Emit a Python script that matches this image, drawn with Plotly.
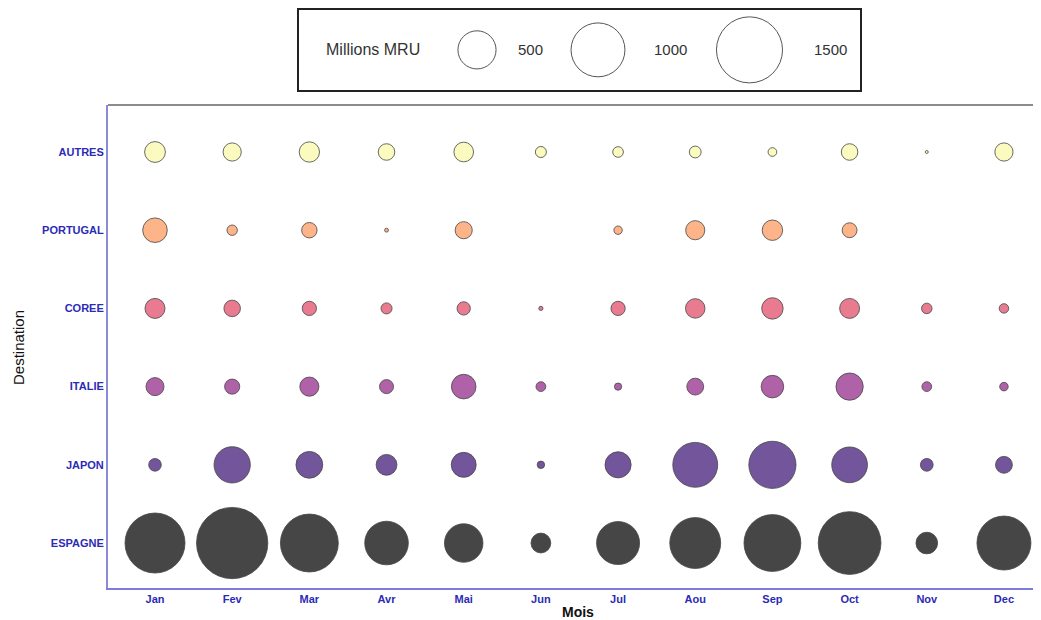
import plotly.graph_objects as go

months = ["Jan", "Fev", "Mar", "Avr", "Mai", "Jun", "Jul", "Aou", "Sep", "Oct", "Nov", "Dec"]
destinations = ["ESPAGNE", "JAPON", "ITALIE", "COREE", "PORTUGAL", "AUTRES"]

# Millions MRU per destination and month
espagne = [1238, 1748, 1153, 654, 510, 135, 636, 892, 1112, 1355, 161, 1002]
japon = [55, 453, 247, 149, 214, 19, 235, 693, 766, 439, 56, 98]
italie = [112, 79, 126, 68, 208, 33, 18, 98, 175, 256, 33, 25]
coree = [138, 94, 70, 42, 61, 6, 70, 131, 158, 137, 38, 31]
portugal = [208, 37, 82, 5, 101, None, 24, 126, 144, 76, None, None]
autres = [149, 114, 142, 94, 133, 42, 39, 48, 26, 94, 3, 114]

series = [espagne, japon, italie, coree, portugal, autres]
colors = ["#464646", "#73559b", "#b062a8", "#e97b90", "#fdb488", "#fbfbc0"]

legend_values = [500, 1000, 1500]
legend_labels = ["500", "1000", "1500"]

# layout positions for the size legend (pixel-like units on legend axes)
legend_circle_x = [477, 598, 749.5]
legend_label_x = [530, 670, 830]

SIZEREF = 0.688
OFF = 8            # page body margin
FIG_W, FIG_H = 1041 - OFF, 620 - OFF
L, B = 108 - OFF, 32
PLOT_W = FIG_W - L
PLOT_H = FIG_H - B


def px_x(px):
    return (px - 108) / PLOT_W


def px_y(py):
    return (588 - py) / PLOT_H


fig = go.Figure()

for dest, vals, col in zip(destinations, series, colors):
    xs = [m for m, v in zip(months, vals) if v is not None]
    ys = [dest for v in vals if v is not None]
    ss = [v for v in vals if v is not None]
    fig.add_trace(go.Scatter(
        x=xs, y=ys, mode="markers",
        marker=dict(size=ss, sizemode="area", sizeref=SIZEREF, sizemin=0, opacity=1,
                    color=col, line=dict(color="rgba(70,70,70,0.8)", width=1)),
        xaxis="x", yaxis="y", showlegend=False, hoverinfo="x+y+text",
        text=[str(v) for v in ss],
    ))

# size legend
fig.add_trace(go.Scatter(
    x=legend_circle_x, y=[0.5] * 3, mode="markers",
    marker=dict(size=legend_values, sizemode="area", sizeref=SIZEREF, opacity=1,
                color="white", line=dict(color="#555555", width=1)),
    xaxis="x2", yaxis="y2", showlegend=False, hoverinfo="skip",
))

annotations = [
    dict(x=373, y=0.5, xref="x2", yref="y2", text="Millions MRU", showarrow=False,
         font=dict(family="Liberation Sans, Arial", size=16, color="#333333"),
         xanchor="center", yanchor="middle"),
]
for lx, lab in zip(legend_label_x, legend_labels):
    annotations.append(dict(x=lx, y=0.5, xref="x2", yref="y2", text=lab, showarrow=False,
                            font=dict(family="Liberation Sans, Arial", size=15, color="#333333"),
                            xanchor="center", yanchor="middle"))

annotations.append(dict(x=px_x(578), y=px_y(612), xref="paper", yref="paper",
                        text="<b>Mois</b>", showarrow=False,
                        font=dict(family="Liberation Sans, Arial", size=14, color="#111111"),
                        xanchor="center", yanchor="middle"))
annotations.append(dict(x=px_x(18), y=px_y(348), xref="paper", yref="paper",
                        text="Destination", showarrow=False, textangle=-90,
                        font=dict(family="Liberation Sans Narrow, Arial Narrow, Liberation Sans", size=15,
                                  color="#111111"),
                        xanchor="center", yanchor="middle"))

tickfont = dict(family="Liberation Sans, Arial", size=11, color="#2b2bb5", weight="bold")
main_top = px_y(105)

fig.update_layout(
    width=FIG_W, height=FIG_H,
    margin=dict(l=L, r=0, t=0, b=B),
    paper_bgcolor="white", plot_bgcolor="white",
    showlegend=False,
    xaxis=dict(type="category", categoryorder="array", categoryarray=months,
               range=[-0.609, 11.48], domain=[0, 1], anchor="y",
               showline=True, linecolor="#7d7dd8", linewidth=2,
               showgrid=False, zeroline=False, ticks="", tickfont=tickfont),
    yaxis=dict(type="category", categoryorder="array", categoryarray=destinations,
               range=[-0.575, 5.601], domain=[0, main_top], anchor="x",
               showline=True, linecolor="#8a8ad8", linewidth=2,
               showgrid=False, zeroline=False, ticks="", tickfont=tickfont),
    xaxis2=dict(domain=[px_x(299), px_x(860)], range=[299, 860], anchor="y2",
                showline=True, mirror=True, linecolor="#222222", linewidth=1.5,
                showgrid=False, zeroline=False, showticklabels=False, ticks=""),
    yaxis2=dict(domain=[px_y(90), min(px_y(5), 0.997)], range=[0, 1], anchor="x2",
                showline=True, mirror=True, linecolor="#222222", linewidth=1.5,
                showgrid=False, zeroline=False, showticklabels=False, ticks=""),
    annotations=annotations,
    shapes=[dict(type="line", xref="paper", yref="paper", x0=0, x1=1, y0=main_top, y1=main_top,
                 line=dict(color="#8c8c8c", width=2))],
)

fig.write_html("out.html")
